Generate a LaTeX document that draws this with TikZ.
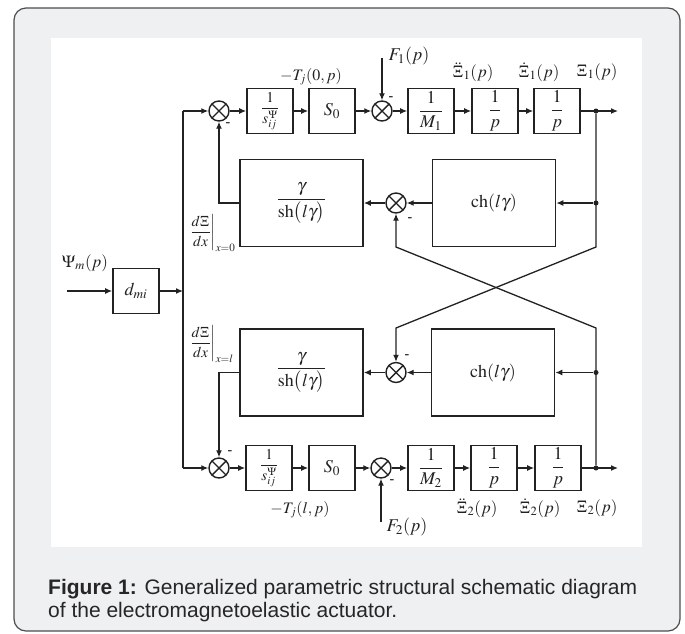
\documentclass[tikz,border=0pt]{standalone}
\usepackage{amsmath}
\usepackage{mathptmx}
\usepackage[no-math]{fontspec}
\setmainfont{Liberation Serif}
\newfontfamily\capfont{Liberation Sans}
\usepackage{xcolor}
\usetikzlibrary{arrows.meta, positioning}

\definecolor{framegray}{HTML}{EFF0F2}
\definecolor{edgegray}{HTML}{4D4D4D}
\definecolor{inkgray}{HTML}{222222}

\tikzset{
  block/.style={draw, line width=1.6pt, minimum width=46pt, minimum height=45pt,
    inner sep=0pt, font=\fontsize{18}{20}\selectfont},
  bigblock/.style={block, minimum width=123pt, minimum height=87pt},
  invblock/.style={block, font=\fontsize{15}{17}\selectfont},
  sumnode/.style={draw, circle, line width=1.4pt, minimum size=20pt, inner sep=0pt,
    path picture={\draw[line width=1.4pt]
      (path picture bounding box.north west) -- (path picture bounding box.south east)
      (path picture bounding box.north east) -- (path picture bounding box.south west);}},
  wire/.style={line width=1.3pt},
  conn/.style={wire, -{Latex[length=7pt,width=6pt]}},
  junction/.style={circle, fill, inner sep=0pt, minimum size=5pt},
  minussign/.style={inner sep=0pt, font=\bfseries\fontsize{14}{14}\selectfont},
  lbl/.style={inner sep=0pt, font=\fontsize{17}{19}\selectfont}
}

\begin{document}
\begin{tikzpicture}[x=1pt, y=-1pt, color=inkgray]
    \useasboundingbox (0,0) rectangle (685,633);

    % Frame and white panel
    \draw[edgegray, fill=framegray, line width=1.2pt, rounded corners=12pt] (14,8) rectangle (680,631);
    \fill[white] (51,38) rectangle (642,547);

    % Top row
    \node[sumnode] (s1) at (219,111) {};
    \node[invblock] (inv1) at (270,111) {$\dfrac{1}{s_{ij}^{\Psi}}$};
    \node[block] (S01) at (332,111) {$S_0$};
    \node[sumnode] (s2) at (382,111) {};
    \node[block] (m1) at (431,111) {$\dfrac{1}{M_1}$};
    \node[block] (p11) at (495,111) {$\dfrac{1}{p}$};
    \node[block] (p12) at (557,111) {$\dfrac{1}{p}$};
    \node[junction] (j1) at (596,111) {};
    \coordinate (out1) at (618,111);
    \coordinate (f1) at (382,58);

    % Bottom row
    \node[sumnode] (s5) at (219,468) {};
    \node[invblock] (inv2) at (269,468) {$\dfrac{1}{s_{ij}^{\Psi}}$};
    \node[block] (S02) at (332,468) {$S_0$};
    \node[sumnode] (s6) at (381,468) {};
    \node[block] (m2) at (431,468) {$\dfrac{1}{M_2}$};
    \node[block] (p21) at (494,468) {$\dfrac{1}{p}$};
    \node[block] (p22) at (558,468) {$\dfrac{1}{p}$};
    \node[junction] (j4) at (596,468) {};
    \coordinate (out2) at (618,468);
    \coordinate (f2) at (381,522);

    % Middle blocks
    \node[bigblock] (sh1) at (301.5,203) {$\dfrac{\gamma}{\mathrm{sh}\bigl(l\gamma\bigr)}$};
    \node[sumnode] (s3) at (396,203) {};
    \node[bigblock] (ch1) at (494,203) {$\mathrm{ch}(l\gamma)$};
    \node[bigblock] (sh2) at (301.5,372.5) {$\dfrac{\gamma}{\mathrm{sh}\bigl(l\gamma\bigr)}$};
    \node[sumnode] (s4) at (396,372.5) {};
    \node[bigblock] (ch2) at (493,372.5) {$\mathrm{ch}(l\gamma)$};
    \node[junction] (j2) at (596,203) {};
    \node[junction] (j3) at (596,372.5) {};
    \coordinate (r1) at (596,247);
    \coordinate (r2) at (596,328);
    \coordinate (l1) at (396,247);
    \coordinate (l2) at (396,328);

    % Input block and bus
    \node[block] (dmi) at (136,291) {$d_{mi}$};
    \coordinate (in) at (67,291);
    \coordinate (busT) at (183,111);
    \coordinate (busB) at (183,468);

    % Forward paths
    \draw[conn] (in) -- (dmi.west);
    \draw[conn] (dmi.east) -- (dmi.east -| busT);
    \draw[wire] (busT) -- (busB);
    \draw[conn] (busT) -- (s1.west);
    \draw[conn] (busB) -- (s5.west);
    \foreach \a/\b in {s1/inv1, inv1/S01, S01/s2, s2/m1, m1/p11, p11/p12,
                       s5/inv2, inv2/S02, S02/s6, s6/m2, m2/p21, p21/p22} {
        \draw[conn] (\a) -- (\b);
    }
    \draw[conn] (p12.east) -- (out1);
    \draw[conn] (p22.east) -- (out2);
    \draw[conn] (f1) -- (s2.north);
    \draw[conn] (f2) -- (s6.south);

    % Feedback paths
    \draw[conn] (j2) -- (ch1.east |- j2);
    \draw[conn] (j3) -- (ch2.east |- j3);
    \draw[conn] (ch1) -- (s3);
    \draw[conn] (s3) -- (sh1);
    \draw[conn] (ch2) -- (s4);
    \draw[conn] (s4) -- (sh2);
    \draw[conn] (sh1.west) -| (s1.south);
    \draw[conn] (sh2.west) -| (s5.north);
    \draw[conn] (j1) -- (r1) -- (l2) -- (s4.north);
    \draw[conn] (j4) -- (r2) -- (l1) -- (s3.south);

    % Minus signs
    \node[minussign] at (228,125) {-};
    \node[minussign] at (391,99) {-};
    \node[minussign] at (410,220) {-};
    \node[minussign] at (407,357) {-};
    \node[minussign] at (230,453) {-};
    \node[minussign] at (392,482) {-};

    % Signal labels
    \node[lbl, font=\fontsize{16}{18}\selectfont] at (311,77) {$-T_j(0,p)$};
    \node[lbl, font=\fontsize{18}{20}\selectfont] at (409,56) {$F_1(p)$};
    \node[lbl] at (473,72) {$\ddot{\Xi}_1(p)$};
    \node[lbl] at (539,72) {$\dot{\Xi}_1(p)$};
    \node[lbl] at (597,72) {$\Xi_1(p)$};
    \node[lbl, font=\fontsize{16}{18}\selectfont] at (300,510) {$-T_j(l,p)$};
    \node[lbl, font=\fontsize{18}{20}\selectfont] at (407,527) {$F_2(p)$};
    \node[lbl] at (477,508) {$\ddot{\Xi}_2(p)$};
    \node[lbl] at (540,508) {$\dot{\Xi}_2(p)$};
    \node[lbl] at (597,508) {$\Xi_2(p)$};
    \node[lbl, font=\fontsize{17}{19}\selectfont] at (85,263) {$\Psi_m(p)$};
    \node[lbl, anchor=west, font=\fontsize{15}{17}\selectfont] at (189,233) {$\left.\dfrac{d\Xi}{dx}\right|_{x=0}$};
    \node[lbl, anchor=west, font=\fontsize{15}{17}\selectfont] at (189,344) {$\left.\dfrac{d\Xi}{dx}\right|_{x=l}$};

    % Caption
    \node[anchor=base west, inner sep=0pt, text=black!85, font=\capfont\fontsize{21}{24}\selectfont] (cap1) at (48,594)
        {\textbf{Figure 1:} Generalized parametric structural schematic diagram};
    \node[anchor=base west, inner sep=0pt, text=black!85, font=\capfont\fontsize{21}{24}\selectfont] (cap2) at (48,617)
        {of the electromagnetoelastic actuator.};
\end{tikzpicture}
\end{document}
